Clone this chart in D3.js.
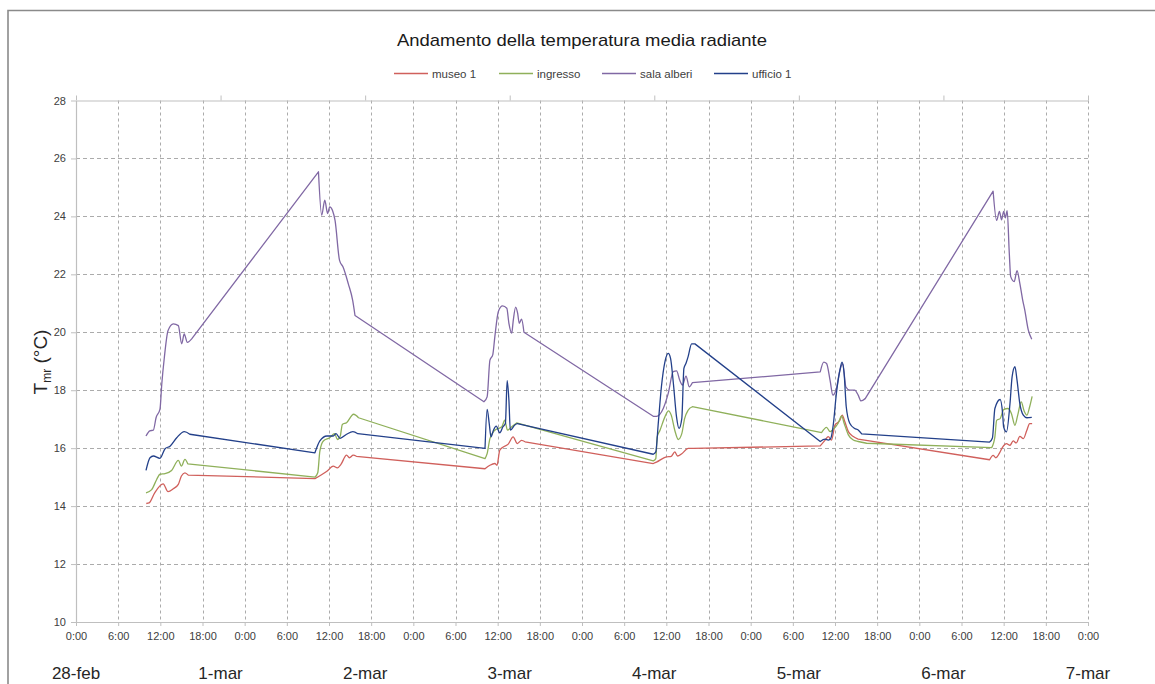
<!DOCTYPE html>
<html>
<head>
<meta charset="utf-8">
<script src="https://cdn.jsdelivr.net/npm/d3@7"></script>
<style>
  html, body { margin: 0; padding: 0; background: #fff; }
  svg { display: block; font-family: Carlito, "Liberation Sans", Arial, sans-serif; }
</style>
</head>
<body>
<svg id="chart" width="1155" height="684"></svg>
<script>
// ---------- DATA ----------
const chartTitle = "Andamento della temperatura media radiante";
const seriesNames = ["museo 1", "ingresso", "sala alberi", "ufficio 1"];
const seriesColors = ["#d0605c", "#8fb05a", "#8068a4", "#23408a"];
const hourLabels = ["0:00", "6:00", "12:00", "18:00"];
const dayLabels = ["28-feb", "1-mar", "2-mar", "3-mar", "4-mar", "5-mar", "6-mar", "7-mar"];
const yTicks = [10, 12, 14, 16, 18, 20, 22, 24, 26, 28];

// [hour since 28-feb 0:00 (primary axis), temperature °C]
const museo1 = [[10.0,14.09],[10.4,14.11],[11.2,14.46],[12.4,14.77],[13.1,14.5],[13.85,14.6],[14.56,14.75],[15.0,15.04],[15.5,15.15],[15.98,15.07],
  [34.0,14.95],[35.7,15.2],[36.6,15.38],[37.2,15.32],[37.7,15.44],[38.5,15.76],[38.9,15.67],[39.45,15.76],[39.9,15.72],
  [58.2,15.29],[58.9,15.41],[59.6,15.47],[59.9,15.41],[60.3,15.93],[60.8,16.04],[61.5,16.14],[62.2,16.39],[62.8,16.16],[63.4,16.27],[63.9,16.22],
  [82.14,15.47],[82.6,15.52],[84.0,15.7],[84.7,15.72],[85.2,15.87],[85.6,15.73],[86.2,15.81],[87.1,15.99],[87.8,15.99],
  [105.9,16.08],[106.6,16.28],[107.04,16.4],[107.5,16.28],[108.0,16.8],[108.37,16.88],[108.7,16.97],[109.03,17.14],[109.4,16.91],[109.9,16.57],[110.6,16.4],[111.3,16.31],
  [130.0,15.6],[130.5,15.75],[130.9,15.67],[131.4,15.83],[131.85,16.04],[132.4,16.16],[132.9,16.1],[133.35,16.25],[133.8,16.18],[134.3,16.41],[134.8,16.33],[135.3,16.62],[135.7,16.85],[136.05,16.85]];

const ingresso = [[9.96,14.46],[10.77,14.57],[11.48,14.92],[11.95,15.1],[12.67,15.12],[13.6,15.23],[14.56,15.58],[15.0,15.38],[15.5,15.61],[15.9,15.46],
  [34.0,15.0],[34.4,15.15],[34.7,15.9],[35.2,16.25],[36.1,16.36],[36.8,16.5],[37.2,16.3],[37.6,16.42],[37.9,16.82],[38.5,16.88],[39.5,17.17],[40.2,17.05],
  [58.2,15.64],[58.5,15.81],[58.9,16.33],[59.6,16.62],[60.1,16.68],[60.6,16.74],[61.0,16.97],[61.4,16.62],[62.0,16.74],[62.7,16.87],
  [82.14,15.56],[82.5,15.64],[82.7,16.39],[83.1,16.62],[83.8,17.08],[84.3,17.29],[84.7,17.14],[85.2,16.62],[85.7,16.3],[86.2,16.5],[86.6,17.02],[87.1,17.31],[87.7,17.43],
  [106.1,16.54],[106.8,16.72],[107.3,16.57],[107.75,16.65],[108.45,16.86],[108.95,17.11],[109.3,16.86],[109.9,16.46],[110.6,16.28],[111.3,16.23],[112.5,16.17],
  [130.3,16.02],[130.75,16.39],[131.0,16.96],[131.5,17.02],[132.0,17.33],[132.6,17.37],[133.1,17.2],[133.6,16.79],[134.0,17.14],[134.5,17.6],[134.9,17.29],[135.3,17.14],[135.7,17.43],[136.05,17.79]];

const salaAlberi = [[9.96,16.42],[10.5,16.6],[11.0,16.62],[11.4,17.06],[11.95,17.35],[12.2,18.2],[12.57,19.13],[13.1,20.06],[13.85,20.29],[14.56,20.23],[15.04,19.6],[15.4,19.94],[15.84,19.65],[16.46,19.77],
  [34.5,25.54],[34.96,24.04],[35.4,24.56],[35.8,24.1],[36.1,24.33],[36.5,24.2],[36.86,23.86],[37.5,22.48],[38.0,22.25],[38.75,21.67],[39.37,21.1],[39.7,20.58],
  [58.05,17.6],[58.5,17.77],[58.9,19.04],[59.3,19.22],[59.6,19.85],[60.1,20.72],[60.7,20.91],[61.3,20.83],[61.6,20.31],[62.0,19.97],[62.2,20.37],[62.56,20.87],[62.84,20.66],[63.07,20.31],[63.4,20.45],[63.74,20.0],
  [82.14,17.1],[82.6,17.1],[83.56,17.37],[84.27,17.89],[84.98,18.64],[85.46,18.67],[85.9,18.35],[86.3,18.18],[86.8,18.49],[87.26,18.12],[87.7,18.26],
  [105.9,18.63],[106.4,18.97],[106.8,18.92],[107.3,18.34],[107.7,17.83],[108.2,18.06],[108.7,18.69],[109.1,18.92],[109.55,18.11],[110.1,18.0],[110.8,18.0],[111.3,17.83],[111.7,17.63],[112.3,17.71],
  [130.5,24.87],[131.0,23.86],[131.4,24.17],[131.7,23.88],[132.0,24.17],[132.25,23.95],[132.5,24.2],[132.8,22.73],[133.0,21.92],[133.5,21.75],[133.9,22.13],[134.3,21.69],[134.7,21.12],[135.0,20.77],[135.5,20.08],[136.0,19.76]];

const ufficio1 = [[9.96,15.23],[10.53,15.67],[11.0,15.73],[11.95,15.65],[12.67,15.98],[13.38,16.07],[14.33,16.36],[15.41,16.57],[16.2,16.48],
  [34.0,15.84],[34.7,16.25],[35.7,16.42],[36.6,16.42],[37.0,16.5],[37.57,16.34],[38.5,16.48],[39.4,16.57],[40.1,16.5],
  [58.2,15.99],[58.5,17.34],[58.8,16.85],[59.05,16.39],[59.4,16.62],[59.8,16.76],[60.3,16.53],[60.75,16.74],[61.1,16.85],[61.35,18.33],[61.6,17.66],[61.8,16.62],[62.4,16.79],[62.8,16.85],
  [82.14,15.79],[82.5,15.87],[82.85,16.85],[83.3,18.12],[83.8,18.98],[84.27,19.27],[84.6,19.1],[85.0,18.24],[85.45,17.08],[85.8,16.68],[86.2,17.02],[86.5,18.75],[86.8,18.93],[87.1,19.16],[87.6,19.6],[88.07,19.6],
  [105.9,16.23],[106.6,16.31],[107.05,16.28],[107.4,16.34],[107.75,16.8],[108.2,17.89],[108.7,18.69],[109.0,18.97],[109.3,18.57],[109.6,17.43],[110.1,16.86],[110.8,16.68],[111.3,16.63],[111.8,16.49],
  [130.0,16.21],[130.4,16.35],[130.75,17.37],[131.5,17.68],[131.85,17.2],[132.0,16.73],[132.4,16.56],[132.9,17.54],[133.2,18.46],[133.6,18.81],[133.9,18.35],[134.3,17.54],[134.8,17.14],[135.3,17.05],[136.0,17.06]];

const seriesData = [museo1, ingresso, salaAlberi, ufficio1];

// ---------- LAYOUT ----------
const svg = d3.select("#chart");
const L = 76, R = 1088, T = 100.5, B = 622;
const x = d3.scaleLinear().domain([0, 144]).range([L, R]);
const xDay = d3.scaleLinear().domain([0, 7]).range([L, R]);
const y = d3.scaleLinear().domain([10, 28]).range([B, T]);

// frame
svg.append("path").attr("d", "M8,684 L8,10.5 L1155,10.5")
  .attr("fill", "none").attr("stroke", "#8a8a8a").attr("stroke-width", 1.6);

// grid
const hourTicks = d3.range(0, 145, 6);
svg.append("g").selectAll("line").data(hourTicks.slice(1)).join("line")
  .attr("x1", d => Math.round(x(d)) + 0.5).attr("x2", d => Math.round(x(d)) + 0.5)
  .attr("y1", T).attr("y2", B)
  .attr("stroke", "#ababab").attr("stroke-dasharray", "3,3");
svg.append("g").selectAll("line").data(yTicks.slice(1, -1)).join("line")
  .attr("x1", L).attr("x2", R)
  .attr("y1", d => Math.round(y(d)) + 0.5).attr("y2", d => Math.round(y(d)) + 0.5)
  .attr("stroke", "#ababab").attr("stroke-dasharray", "4,3");

// axes
const axisColor = "#bfbfbf";
const styleAxis = g => {
  g.select(".domain").attr("stroke", axisColor).attr("stroke-width", 1.2);
  g.selectAll(".tick line").attr("stroke", axisColor);
  g.selectAll(".tick text").attr("fill", "#404040").attr("font-family", "'Liberation Sans', Arial, sans-serif");
};

svg.append("g").attr("transform", `translate(0,${B})`)
  .call(d3.axisBottom(x).tickValues(hourTicks).tickSize(4).tickSizeOuter(0).tickPadding(6)
    .tickFormat(d => hourLabels[(d / 6) % 4]))
  .call(styleAxis)
  .call(g => g.selectAll(".tick text").attr("font-size", 11));

svg.append("g").attr("transform", `translate(${L},0)`)
  .call(d3.axisLeft(y).tickValues(yTicks).tickSize(5).tickSizeOuter(0).tickPadding(5)
    .tickFormat(d3.format("d")))
  .call(styleAxis)
  .call(g => g.selectAll(".tick text").attr("font-size", 11));

svg.append("g").attr("transform", `translate(0,${T})`)
  .call(d3.axisTop(xDay).ticks(7).tickSize(5).tickSizeOuter(0).tickFormat(""))
  .call(styleAxis);

// day labels (secondary category row)
svg.append("g").selectAll("text").data(dayLabels).join("text")
  .attr("x", (d, i) => xDay(i)).attr("y", 679)
  .attr("text-anchor", "middle").attr("font-size", 17).attr("fill", "#262626")
  .attr("font-family", "'Liberation Sans', Arial, sans-serif")
  .text(d => d);

// lines: smooth within each measurement burst, straight across long gaps
const line = d3.line().x(d => x(d[0])).y(d => y(d[1])).curve(d3.curveMonotoneX);
function seriesPath(pts) {
  const runs = [];
  let cur = [pts[0]];
  for (let i = 1; i < pts.length; i++) {
    if (pts[i][0] - pts[i - 1][0] > 4) { runs.push(cur); cur = [pts[i]]; }
    else cur.push(pts[i]);
  }
  runs.push(cur);
  return runs.map((r, i) => {
    const d = r.length > 1 ? line(r) : `M${x(r[0][0])},${y(r[0][1])}`;
    return i === 0 ? d : "L" + d.slice(1);
  }).join("");
}
svg.append("g").selectAll("path").data(seriesData).join("path")
  .attr("d", seriesPath).attr("fill", "none")
  .attr("stroke", (d, i) => seriesColors[i]).attr("stroke-width", 1.3)
  .attr("stroke-linejoin", "round");

// title
svg.append("text").attr("x", 582).attr("y", 46).attr("text-anchor", "middle")
  .attr("font-size", 17).attr("fill", "#1a1a1a")
  .attr("font-family", "'Liberation Sans', Arial, sans-serif")
  .attr("textLength", 370).attr("lengthAdjust", "spacingAndGlyphs")
  .text(chartTitle);

// legend
const legendX = [394, 499, 602, 714];
const lg = svg.append("g").selectAll("g").data(seriesNames).join("g")
  .attr("transform", (d, i) => `translate(${legendX[i]},73.5)`);
lg.append("line").attr("x1", 0).attr("x2", 34).attr("y1", 0).attr("y2", 0)
  .attr("stroke", (d, i) => seriesColors[i]).attr("stroke-width", 1.3);
lg.append("text").attr("x", 38).attr("y", 4).attr("font-size", 11.5).attr("fill", "#404040")
  .attr("font-family", "'Liberation Sans', Arial, sans-serif")
  .text(d => d);

// y-axis title T_mr (°C)
const yt = svg.append("text").attr("transform", "translate(47,362) rotate(-90)")
  .attr("text-anchor", "middle").attr("font-size", 19).attr("fill", "#262626")
  .attr("font-family", "'Liberation Sans', Arial, sans-serif");
yt.append("tspan").text("T");
yt.append("tspan").attr("font-size", 12).attr("dy", 4).text("mr");
yt.append("tspan").attr("dy", -4).text(" (°C)");
</script>
</body>
</html>
